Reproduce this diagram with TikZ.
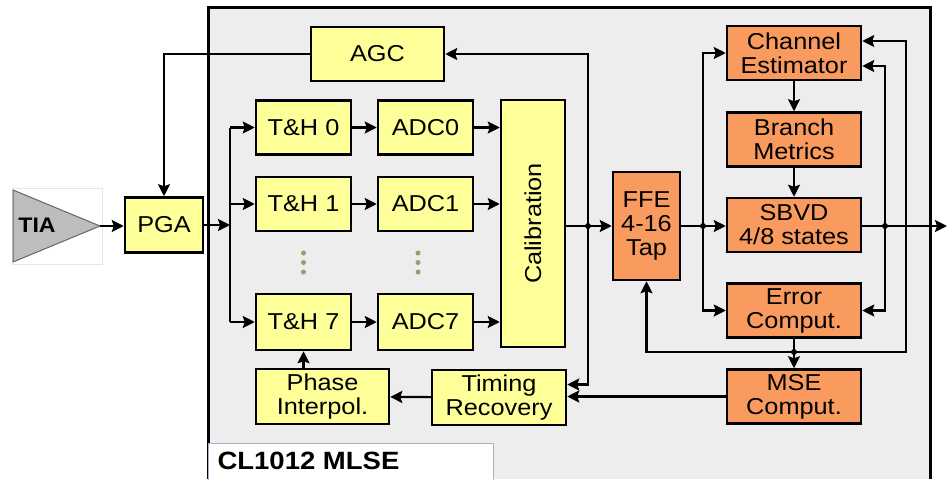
\documentclass[tikz,border=0pt]{standalone}
\usepackage{fontspec}
\setmainfont{Liberation Sans}[FakeStretch=1.1]
\usetikzlibrary{arrows.meta,positioning,calc}
\definecolor{blkyellow}{HTML}{FFFF99}
\definecolor{blkorange}{HTML}{F99B5F}
\definecolor{chipgray}{HTML}{EDEDED}
\definecolor{dotolive}{HTML}{9C9C6C}
\definecolor{tiagray}{HTML}{BDBDBD}
\definecolor{lblframe}{HTML}{A3B1C9}

\begin{document}
\begin{tikzpicture}[x=1pt, y=-1pt,
    every node/.style={font=\fontsize{23pt}{24pt}\selectfont},
    yblk/.style={draw, line width=2.5pt, fill=blkyellow, align=center, inner sep=0pt},
    oblk/.style={draw, line width=2.5pt, fill=blkorange, align=center, inner sep=0pt,
        minimum width=134pt, minimum height=54pt},
    sig/.style={line width=2.2pt},
    flow/.style={line width=2.2pt, -{Stealth[length=12pt,width=12pt,inset=2pt]}}]
    \useasboundingbox (0,0) rectangle (947,479);
    \fill[chipgray] (208,7) rectangle (930,479);
    \draw[line width=3pt] (208,479) -- (208,7) -- (930,7) -- (930,479);
    \draw[draw=lblframe, fill=white, line width=1pt] (208,443) rectangle (493,481);
    \node[anchor=west, font=\fontsize{25pt}{26pt}\selectfont\bfseries] (chipname) at (214,461) {CL1012 MLSE};

    \draw[draw=gray!20, fill=white] (12,188) rectangle (102,264);
    \filldraw[draw=gray!80!black, fill=tiagray, line width=1pt] (13,190) -- (100,226) -- (13,262) -- cycle;
    \coordinate (tiatip) at (100,226);
    \node[font=\fontsize{21pt}{22pt}\selectfont\bfseries] (tia) at (37,225) {TIA};

    \node[yblk, minimum width=78pt, minimum height=55pt] (pga) at (164,225) {PGA};
    \node[yblk, minimum width=133pt, minimum height=54pt] (agc) at (377.5,54) {AGC};
    \node[yblk, minimum width=95pt, minimum height=54pt] (th0) at (303.5,127.5) {T\&H 0};
    \node[yblk, minimum width=95pt, minimum height=54pt] (th1) at (303.5,204) {T\&H 1};
    \node[yblk, minimum width=95pt, minimum height=56pt] (th7) at (303.5,322) {T\&H 7};
    \node[yblk, minimum width=95pt, minimum height=54pt] (adc0) at (425.5,127.5) {ADC0};
    \node[yblk, minimum width=95pt, minimum height=54pt] (adc1) at (425.5,204) {ADC1};
    \node[yblk, minimum width=95pt, minimum height=56pt] (adc7) at (425.5,322) {ADC7};
    \node[yblk, minimum width=64pt, minimum height=247pt] (cal) at (533,223.5) {};
    \node[rotate=90] (caltxt) at (cal) {Calibration};
    \node[yblk, minimum width=133pt, minimum height=55pt] (phint) at (322.5,396.5) {Phase\\Interpol.};
    \node[yblk, minimum width=134pt, minimum height=55pt] (timrec) at (499,397.5) {Timing\\Recovery};

    \node[oblk, minimum width=67pt, minimum height=108pt] (ffe) at (646.5,226) {FFE\\4-16\\Tap};
    \node[oblk] (chest) at (794,53) {Channel\\Estimator};
    \node[oblk] (brmet) at (794,139.5) {Branch\\Metrics};
    \node[oblk] (sbvd) at (794,225) {SBVD\\4/8 states};
    \node[oblk] (errc) at (794,310.5) {Error\\Comput.};
    \node[oblk] (mse) at (794,396.5) {MSE\\Comput.};

    \foreach \y in {253,262.5,272} {
        \fill[dotolive] (303.5,\y) circle (2.5pt);
        \fill[dotolive] (418,\y) circle (2.5pt);
    }

    \draw[flow] (tiatip) -- (tiatip -| pga.west);
    \coordinate (bus) at (230,225);
    \draw[flow] (pga) -- (bus);
    \draw[sig] (bus |- th0) -- (bus |- th7);
    \foreach \k in {0,1,7} {
        \draw[flow] (bus |- th\k) -- (th\k);
        \draw[flow] (th\k) -- (adc\k);
        \draw[flow] (adc\k) -- (adc\k -| cal.west);
    }
    \draw[flow] (agc.west) -| (pga.north);

    \coordinate (j1) at (588,226);
    \draw[flow] (cal.east |- j1) -- (j1 -| ffe.west);
    \draw[flow] (j1) |- (agc.east);
    \draw[flow] (j1) |- ($(timrec.east)+(0,-13)$);
    \draw[flow] (mse.west) -- (mse.west -| timrec.east);
    \draw[flow] (timrec) -- (phint);
    \draw[flow] (phint.north -| th7) -- (th7.south);

    \coordinate (j2) at (703,226);
    \draw[flow] (ffe.east |- j2) -- (j2 -| sbvd.west);
    \draw[flow] (j2) |- (chest.west);
    \draw[flow] (j2) |- (errc.west);
    \draw[flow] (chest) -- (brmet);
    \draw[flow] (brmet) -- (sbvd);
    \draw[flow] (errc) -- (mse);

    \coordinate (j3) at (885,226);
    \coordinate (out) at (947,226);
    \draw[flow] (sbvd.east |- j3) -- (out);
    \draw[flow] (j3) |- ($(chest.east)+(0,13)$);
    \draw[flow] (j3) |- (errc.east);

    \coordinate (j4) at (794,352);
    \coordinate (fb) at (906,352);
    \draw[flow] (j4) -| (ffe.south);
    \draw[flow] (j4) -- (fb) |- ($(chest.east)+(0,-12)$);
    \foreach \c in {j1,j2,j3,j4} \fill (\c) circle (3pt);
\end{tikzpicture}
\end{document}
